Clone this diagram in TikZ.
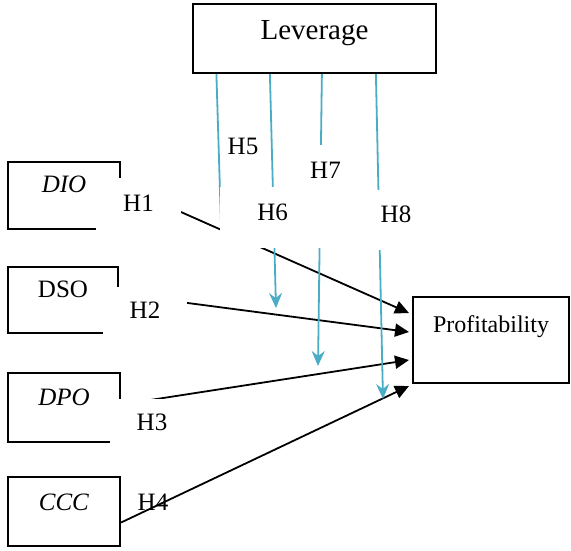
\documentclass[tikz,border=0pt]{standalone}
\usepackage{fontspec}
\setmainfont{Liberation Serif}
\usetikzlibrary{arrows.meta}
\definecolor{myblue}{RGB}{75,172,198}

\begin{document}
\begin{tikzpicture}[x=1pt,y=-1pt]
\tikzset{BoxStyle/.style ={draw,line width=2.2pt,inner sep=0pt,font=\fontsize{25}{30}\selectfont}}
\tikzset{HypStyle/.style ={fill=white,inner sep=0pt,font=\fontsize{25}{30}\selectfont}}
\tikzset{EdgeStyle/.style ={line width=1.8pt,-{Triangle[length=14pt,width=13pt]}}}
\tikzset{ModStyle/.style ={color=myblue,line width=1.8pt,-{Stealth[length=15pt,width=13pt,inset=5pt]}}}
\useasboundingbox (0,0) rectangle (571,550);
% constructs
\node[BoxStyle,font=\fontsize{29}{33}\selectfont,minimum width=243,text height=35,text depth=34] (lev) at (314.5,38.5) {Leverage};
\node[BoxStyle,minimum width=112,text height=30,text depth=37] (dio) at (64,195.5) {\textit{DIO}};
\node[BoxStyle,minimum width=110,text height=30,text depth=36] (dso) at (63,300) {DSO};
\node[BoxStyle,minimum width=112,text height=32,text depth=37] (dpo) at (64,407.5) {\textit{DPO}};
\node[BoxStyle,minimum width=112,text height=33,text depth=36] (ccc) at (64,511.5) {\textit{CCC}};
\node[BoxStyle,font=\fontsize{24}{28}\selectfont,minimum width=156,text height=35,text depth=51] (prof) at (491,340) {Profitability};
% arrow ends
\coordinate (p1) at (409,313);
\coordinate (p2) at (409,332);
\coordinate (p3) at (409,360);
\coordinate (p4) at (409,386);
\coordinate (m1) at (221,224);
\coordinate (m2) at (276,308);
\coordinate (m3) at (318,366);
\coordinate (m4) at (383,399);
% direct effects
\draw[EdgeStyle] ([yshift=10pt]dio.east) -- (p1);
\draw[EdgeStyle] ([yshift=6pt]dso.east) -- (p2);
\draw[EdgeStyle] ([yshift=3pt]dpo.east) -- (p3);
\draw[EdgeStyle] ([yshift=-11pt]ccc.east) -- (p4);
% moderation
\draw[ModStyle,-] ([xshift=24.5pt]lev.south west) -- (m1);
\draw[ModStyle] ([xshift=78pt]lev.south west) -- (m2);
\draw[ModStyle] ([xshift=130pt]lev.south west) -- (m3);
\draw[ModStyle] ([xshift=184pt]lev.south west) -- (m4);
% hypotheses
\node[HypStyle,minimum width=85,text height=33,text depth=51] (h1) at (138.5,220) {H1};
\node[HypStyle,minimum width=84,text height=31,text depth=27] (h2) at (145,316) {H2};
\node[HypStyle,minimum width=84,text height=31,text depth=25] (h3) at (152,427) {H3};
\node[HypStyle,fill=none,anchor=base] (h4) at (153,510) {H4};
\node[HypStyle,fill=none,anchor=base] (h5) at (243,154) {H5};
\node[HypStyle,inner xsep=8pt,text width=60,align=right,text height=33,text depth=28] (h6) at (258,217.5) {H6};
\node[HypStyle,minimum width=59,text height=33,text depth=70] (h7) at (325.5,196.5) {H7};
\node[HypStyle,minimum width=52,text height=32,text depth=28] (h8) at (396,220) {H8};
\end{tikzpicture}
\end{document}
